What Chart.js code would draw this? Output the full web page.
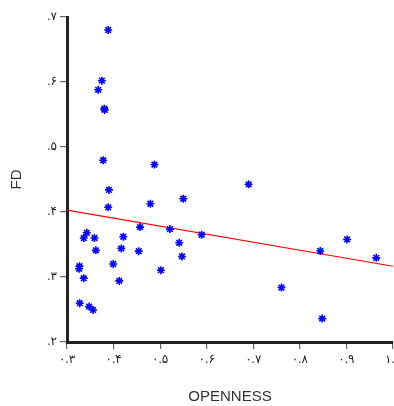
<!DOCTYPE html>
<html>
<head>
<meta charset="utf-8">
<script src="https://cdn.jsdelivr.net/npm/chart.js@4.4.0/dist/chart.umd.min.js"></script>
<style>
  html, body { margin: 0; padding: 0; background: #fff; }
  #wrap { width: 394px; height: 406px; }
</style>
</head>
<body>
<div id="wrap"><canvas id="chart" width="394" height="406"></canvas></div>
<script>
// OPENNESS (x) vs FD (y)
const openness = [
  0.3885, 0.375, 0.367, 0.380, 0.381, 0.3777, 0.4877, 0.390, 0.3885, 0.479,
  0.5497, 0.4569, 0.521, 0.589, 0.3425, 0.336, 0.359, 0.4209, 0.362, 0.4166,
  0.454, 0.541, 0.5469, 0.3993, 0.3268, 0.326, 0.336, 0.5016, 0.4122, 0.3274,
  0.3475, 0.356, 0.690, 0.9014, 0.8438, 0.964, 0.7605, 0.848
];
const fd = [
  0.680, 0.602, 0.588, 0.559, 0.557, 0.4796, 0.473, 0.434, 0.4072, 0.4127,
  0.4204, 0.3768, 0.3737, 0.365, 0.368, 0.360, 0.360, 0.3619, 0.341, 0.344,
  0.3398, 0.3526, 0.3316, 0.320, 0.3167, 0.3127, 0.2982, 0.3105, 0.294, 0.2597,
  0.2545, 0.2493, 0.4426, 0.3578, 0.340, 0.3295, 0.2838, 0.236
];

// fitted line end points
const fitX = [0.3, 1.0];
const fitY = [0.403, 0.3165];

const xTickValues = [0.3, 0.4, 0.5, 0.6, 0.7, 0.8, 0.9, 1.0];
const xTickLabels = ['۰.۳', '۰.۴', '۰.۵', '۰.۶', '۰.۷', '۰.۸', '۰.۹', '۱.۰'];
const yTickValues = [0.2, 0.3, 0.4, 0.5, 0.6, 0.7];
const yTickLabels = ['.۲', '.۳', '.۴', '.۵', '.۶', '.۷'];

const tickFont = { family: 'Liberation Sans, DejaVu Sans, sans-serif', size: 12 };
const titleFont = { family: 'Liberation Sans, Arial, sans-serif', size: 15 };

const ctx = document.getElementById('chart');
new Chart(ctx, {
  type: 'scatter',
  data: {
    datasets: [
      {
        data: openness.map((x, i) => ({ x: x, y: fd[i] })),
        pointStyle: 'star',
        pointRadius: 4,
        pointBorderWidth: 1.6,
        borderColor: '#0000ff',
        backgroundColor: '#0000ff',
        pointHoverRadius: 4
      },
      {
        type: 'line',
        data: fitX.map((x, i) => ({ x: x, y: fitY[i] })),
        borderColor: '#ff0000',
        borderWidth: 1.2,
        pointRadius: 0,
        fill: false
      }
    ]
  },
  options: {
    responsive: false,
    animation: false,
    devicePixelRatio: 1,
    layout: { autoPadding: false, padding: { top: 17, right: 1, left: 0, bottom: 0 } },
    plugins: {
      legend: { display: false },
      tooltip: { enabled: false }
    },
    scales: {
      x: {
        type: 'linear',
        min: 0.3,
        max: 1.0,
        afterBuildTicks: (scale) => {
          scale.ticks = xTickValues.map(v => ({ value: v }));
        },
        afterFit: (scale) => {
          scale.height = 64;
          scale.paddingLeft = 0;
          scale.paddingRight = 0;
        },
        ticks: {
          autoSkip: false,
          maxRotation: 0,
          padding: 3,
          color: '#222',
          font: tickFont,
          callback: (v, i) => xTickLabels[i]
        },
        grid: { drawOnChartArea: false, drawTicks: true, tickLength: 7, color: '#666', lineWidth: 1.2 },
        border: { display: true, color: '#222', width: 3 },
        title: { display: true, text: 'OPENNESS', color: '#333', font: titleFont, padding: { top: 0, bottom: 0 } }
      },
      y: {
        type: 'linear',
        min: 0.2,
        max: 0.7,
        afterBuildTicks: (scale) => {
          scale.ticks = yTickValues.map(v => ({ value: v }));
        },
        afterFit: (scale) => {
          scale.width = 67;
          scale.paddingTop = 0;
          scale.paddingBottom = 0;
        },
        ticks: {
          autoSkip: false,
          padding: 3,
          color: '#222',
          font: tickFont,
          callback: (v, i) => yTickLabels[i]
        },
        grid: { drawOnChartArea: false, drawTicks: true, tickLength: 7, color: '#666', lineWidth: 1.2 },
        border: { display: true, color: '#222', width: 3 },
        title: { display: true, text: 'FD', color: '#333', font: titleFont, padding: { top: 8, bottom: 0 } }
      }
    }
  }
});
</script>
</body>
</html>
